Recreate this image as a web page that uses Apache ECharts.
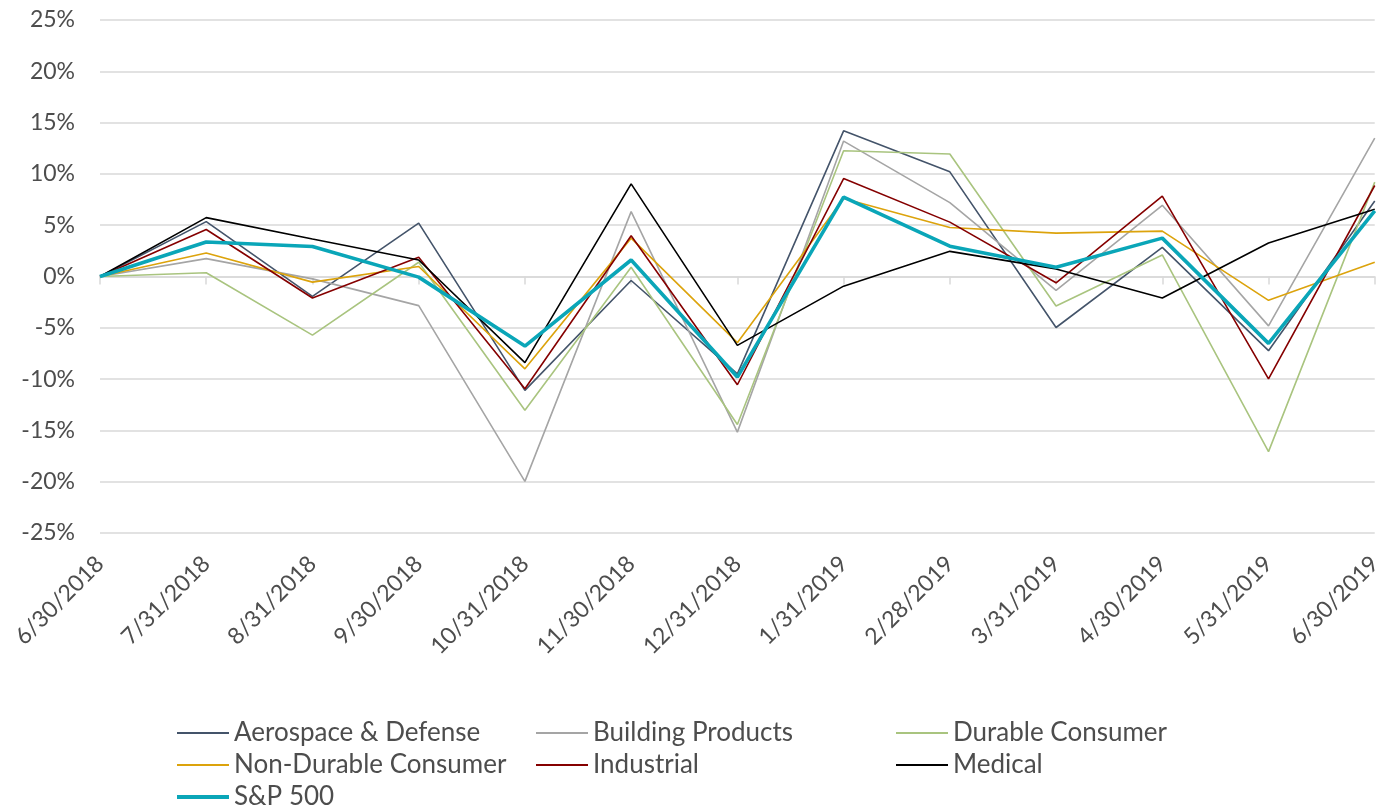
<!DOCTYPE html>
<html>
<head>
<meta charset="utf-8">
<script src="https://cdn.jsdelivr.net/npm/echarts@6/dist/echarts.min.js"></script>
<style>
html,body{margin:0;padding:0;background:#fff;}
#chart{width:1385px;height:808px;}
</style>
</head>
<body>
<div id="chart"></div>
<script>
const categories = ['6/30/2018','7/31/2018','8/31/2018','9/30/2018','10/31/2018','11/30/2018','12/31/2018','1/31/2019','2/28/2019','3/31/2019','4/30/2019','5/31/2019','6/30/2019'];
const yTicks = [-25, -20, -15, -10, -5, 0, 5, 10, 15, 20, 25];

const aerospace  = [0, 5.35, -1.94, 5.2, -11.1, -0.39, -9.49, 14.2, 10.2, -4.97, 2.84, -7.23, 7.36];
const building   = [0, 1.74, -0.23, -2.84, -19.97, 6.32, -15.17, 13.2, 7.2, -1.36, 6.94, -4.81, 13.49];
const durable    = [0, 0.36, -5.71, 1.39, -13.04, 0.9, -14.42, 12.26, 11.94, -2.87, 2.1, -17.07, 9.2];
const nonDurable = [0, 2.29, -0.55, 0.97, -9.0, 3.74, -6.45, 7.6, 4.77, 4.23, 4.42, -2.32, 1.39];
const industrial = [0, 4.58, -2.1, 1.87, -10.94, 3.97, -10.55, 9.55, 5.3, -0.61, 7.84, -9.97, 8.87];
const medical    = [0, 5.74, 3.65, 1.61, -8.39, 9.03, -6.71, -0.94, 2.45, 0.74, -2.1, 3.26, 6.55];
const sp500      = [0, 3.36, 2.93, -0.06, -6.78, 1.61, -9.8, 7.74, 2.95, 0.9, 3.74, -6.52, 6.39];

const seriesNames = ['Aerospace & Defense','Building Products','Durable Consumer','Non-Durable Consumer','Industrial','Medical','S&P 500'];
const seriesData = [aerospace, building, durable, nonDurable, industrial, medical, sp500];
const colors = ['#44546A','#A5A5A5','#A9C47F','#DCA30C','#850000','#000000','#0AA6B8'];
const widths = [1.6,1.6,1.6,1.6,1.6,1.6,3.6];

const FONT = 'Lato';
const TXT = '#4D4D4D';

// legend layout: column x (line start) and row centre y for each series
const legendCol = [177, 536, 896, 177, 536, 896, 177];
const legendRow = [733, 733, 733, 765, 765, 765, 797];

const chart = echarts.init(document.getElementById('chart'), null, {renderer:'canvas'});

const FS_LEG = 26;
const legends = seriesNames.map((name, i) => ({
  data: [name],
  left: legendCol[i],
  top: legendRow[i] - FS_LEG / 2,
  padding: 0,
  icon: 'rect',
  itemWidth: 52,
  itemHeight: i === 6 ? 4 : 2,
  itemStyle: {color: colors[i], borderWidth: 0},
  textStyle: {fontFamily: FONT, fontSize: FS_LEG, color: TXT},
  selectedMode: false
}));

chart.setOption({
  animation: false,
  textStyle: {fontFamily: FONT},
  grid: {left: 100, right: 10, top: 20, bottom: 275, containLabel: false},
  legend: legends,
  xAxis: [
    {
      type: 'category',
      data: categories,
      boundaryGap: false,
      position: 'bottom',
      axisLine: {show: false, onZero: false},
      axisTick: {show: false},
      axisLabel: {rotate: 45, margin: 27, fontFamily: FONT, fontSize: 23, color: TXT, interval: 0}
    },
    {
      type: 'category',
      data: categories,
      boundaryGap: false,
      position: 'bottom',
      axisLine: {show: true, onZero: true, lineStyle: {color: '#D9D9D9', width: 1.5}},
      axisTick: {show: true, length: 8, interval: 0, lineStyle: {color: '#D9D9D9', width: 1.5}},
      axisLabel: {show: false},
      splitLine: {show: false}
    }
  ],
  yAxis: {
    type: 'value',
    min: yTicks[0],
    max: yTicks[yTicks.length - 1],
    interval: 5,
    axisLine: {show: false},
    axisTick: {show: false},
    splitLine: {lineStyle: {color: '#D9D9D9', width: 1.5}},
    axisLabel: {formatter: '{value}%', margin: 25, fontFamily: FONT, fontSize: 23, color: TXT}
  },
  series: seriesNames.map((name, i) => ({
    name: name,
    type: 'line',
    xAxisIndex: 0,
    data: seriesData[i],
    symbol: 'none',
    color: colors[i],
    lineStyle: {color: colors[i], width: widths[i]},
    z: i === 6 ? 5 : 2
  }))
});
</script>
</body>
</html>
